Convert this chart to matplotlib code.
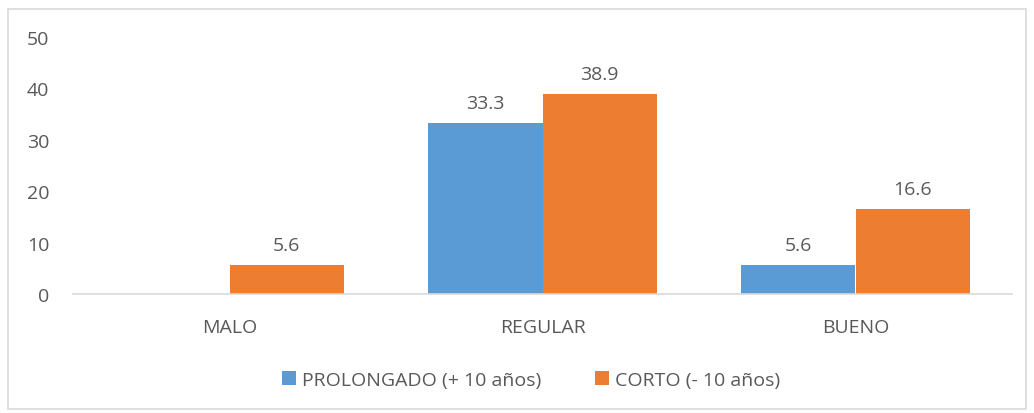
import matplotlib
matplotlib.use("Agg")
import matplotlib.pyplot as plt
import numpy as np
from matplotlib.patches import Rectangle

categories = ["MALO", "REGULAR", "BUENO"]
prolongado = [0, 33.3, 5.6]
corto = [5.6, 38.9, 16.6]
series_names = ["PROLONGADO (+ 10 años)", "CORTO (- 10 años)"]
yticks = [0, 10, 20, 30, 40, 50]

plt.rcParams['font.family'] = ['Open Sans', 'DejaVu Sans']
txt = '#595959'
fs = 14

fig = plt.figure(figsize=(10.34, 4.14), dpi=100)
ax = fig.add_axes([73/1034, (414-295)/414, (1012-73)/1034, (295-38)/414])

x = np.arange(len(categories))
w = 0.365
b1 = ax.bar(x - w/2, prolongado, w, color='#5B9BD5', label=series_names[0])
b2 = ax.bar(x + w/2, corto, w, color='#ED7D31', label=series_names[1])

for bars, vals in ((b1, prolongado), (b2, corto)):
    for r, v in zip(bars, vals):
        if v > 0:
            ax.annotate(f"{v:.1f}", (r.get_x() + r.get_width()/2, v), xytext=(0, 8),
                        textcoords='offset points', ha='center', va='bottom',
                        fontsize=fs, color=txt)

ax.set_xlim(-0.5, 2.5)
ax.set_ylim(0, 50)
ax.set_yticks(yticks)
ax.set_xticks(x)
ax.set_xticklabels(categories)
for s in ['top', 'right', 'left']:
    ax.spines[s].set_visible(False)
ax.spines['bottom'].set_color('#D9D9D9')
ax.spines['bottom'].set_linewidth(1.2)
ax.tick_params(axis='both', length=0, labelsize=fs, colors=txt)
ax.tick_params(axis='y', pad=17)
ax.tick_params(axis='x', pad=17)

leg = fig.legend(handles=[b1, b2], labels=series_names, loc='center', bbox_to_anchor=(531/1034, 1-381/414),
                 ncol=2, frameon=False, fontsize=fs, handlelength=0.7, handleheight=0.7,
                 handletextpad=0.3, columnspacing=2.8)
for t in leg.get_texts():
    t.set_color(txt)

fig.patches.append(Rectangle((8/1034, 4/414), (1026-8)/1034, (404-4)/414, transform=fig.transFigure,
                             fill=False, edgecolor='#D9D9D9', linewidth=1.2))

fig.savefig('out.png', dpi=100)
